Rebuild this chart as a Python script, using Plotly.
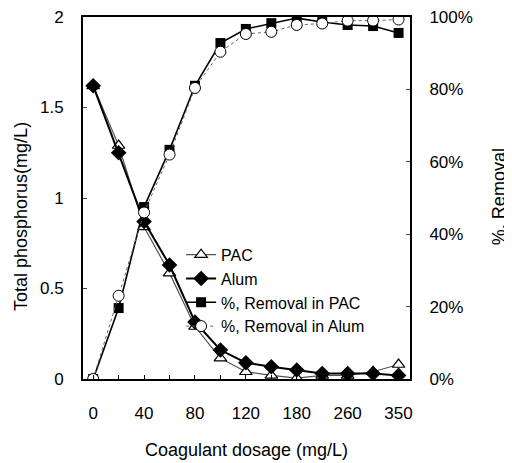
import plotly.graph_objects as go

dosage_labels = ["0", "20", "40", "60", "80", "100", "120", "150", "180", "220", "260", "300", "350"]
tick_labels = ["0", "40", "80", "120", "180", "260", "350"]

tp_pac = [1.62, 1.29, 0.84, 0.585, 0.29, 0.115, 0.04, 0.02, 0.005, 0.02, 0.02, 0.04, 0.08]
tp_alum = [1.62, 1.25, 0.87, 0.63, 0.315, 0.16, 0.09, 0.068, 0.05, 0.03, 0.03, 0.03, 0.02]
rem_pac = [0, 19.6, 47.5, 63.3, 81.0, 92.8, 96.7, 98.3, 99.7, 98.6, 97.8, 97.5, 95.6]
rem_alum = [0, 23.0, 46.0, 62.0, 80.4, 90.4, 95.3, 95.9, 97.8, 98.2, 99.0, 99.0, 99.3]

idx = list(range(len(dosage_labels)))
tickpos = [dosage_labels.index(t) for t in tick_labels]

FONT = "Liberation Sans, Arial, sans-serif"
fig = go.Figure()

fig.add_trace(go.Scatter(x=idx, y=tp_pac, name="PAC", mode="lines+markers",
                         line=dict(color="#555555", width=1.2),
                         marker=dict(symbol="triangle-up", size=11, color="white",
                                     line=dict(color="black", width=1.2))))
fig.add_trace(go.Scatter(x=idx, y=tp_alum, name="Alum", mode="lines+markers",
                         line=dict(color="black", width=2),
                         marker=dict(symbol="diamond", size=12, color="black")))
fig.add_trace(go.Scatter(x=idx, y=rem_pac, name="%, Removal in PAC", mode="lines+markers",
                         yaxis="y2", line=dict(color="black", width=1.6),
                         marker=dict(symbol="square", size=10, color="black")))
fig.add_trace(go.Scatter(x=idx, y=rem_alum, name="%, Removal in Alum", mode="lines+markers",
                         yaxis="y2", line=dict(color="#666666", width=1, dash="dot"),
                         marker=dict(symbol="circle", size=11, color="white",
                                     line=dict(color="black", width=1))))

# page body has an 8px margin, so plot-area margins are offset accordingly
fig.update_layout(
    width=512, height=463,
    margin=dict(l=75, r=110, t=9, b=92, autoexpand=False),
    paper_bgcolor="white", plot_bgcolor="white",
    font=dict(family=FONT, size=16, color="black"),
    showlegend=True,
    legend=dict(x=0.30, y=0.39, xanchor="left", yanchor="top",
                bgcolor="rgba(0,0,0,0)", font=dict(size=16, family=FONT),
                tracegroupgap=0, itemwidth=30),
    xaxis=dict(range=[-0.4, 12.45], tickmode="array", tickvals=tickpos, ticktext=tick_labels,
               ticks="", showline=True, linecolor="black", linewidth=2, mirror=True,
               showgrid=False, zeroline=False, tickfont=dict(size=17), automargin=False,
               ticklabelstandoff=18, ticklabeloverflow="allow",
               minor=dict(tickmode="array", tickvals=idx, ticks="inside", ticklen=4,
                          tickcolor="black", showgrid=False),
               title=dict(text="Coagulant dosage (mg/L)", font=dict(size=18), standoff=21)),
    yaxis=dict(range=[0, 2], tickvals=[0, 0.5, 1, 1.5, 2], ticktext=["0", "0.5", "1", "1.5", "2"],
               ticks="inside", ticklen=4, showline=True, linecolor="black", linewidth=2,
               showgrid=False, zeroline=False, tickfont=dict(size=17), automargin=False,
               ticklabelstandoff=14, ticklabeloverflow="allow"),
    yaxis2=dict(range=[0, 100], overlaying="y", side="right",
                tickvals=[0, 20, 40, 60, 80, 100],
                ticktext=["0%", "20%", "40%", "60%", "80%", "100%"],
                ticks="inside", ticklen=4, showline=True, linecolor="black", linewidth=2,
                showgrid=False, zeroline=False, tickfont=dict(size=17), automargin=False,
                ticklabelstandoff=14, ticklabeloverflow="allow"),
    annotations=[
        dict(text="Total phosphorus(mg/L)", textangle=-90, xref="paper", yref="paper",
             x=-0.19, y=0.45, xanchor="center", yanchor="middle", showarrow=False,
             font=dict(size=18)),
        dict(text="%, Removal", textangle=-90, xref="paper", yref="paper",
             x=1.272, y=0.505, xanchor="center", yanchor="middle", showarrow=False,
             font=dict(size=18)),
    ],
)

fig.write_html("out.html")
